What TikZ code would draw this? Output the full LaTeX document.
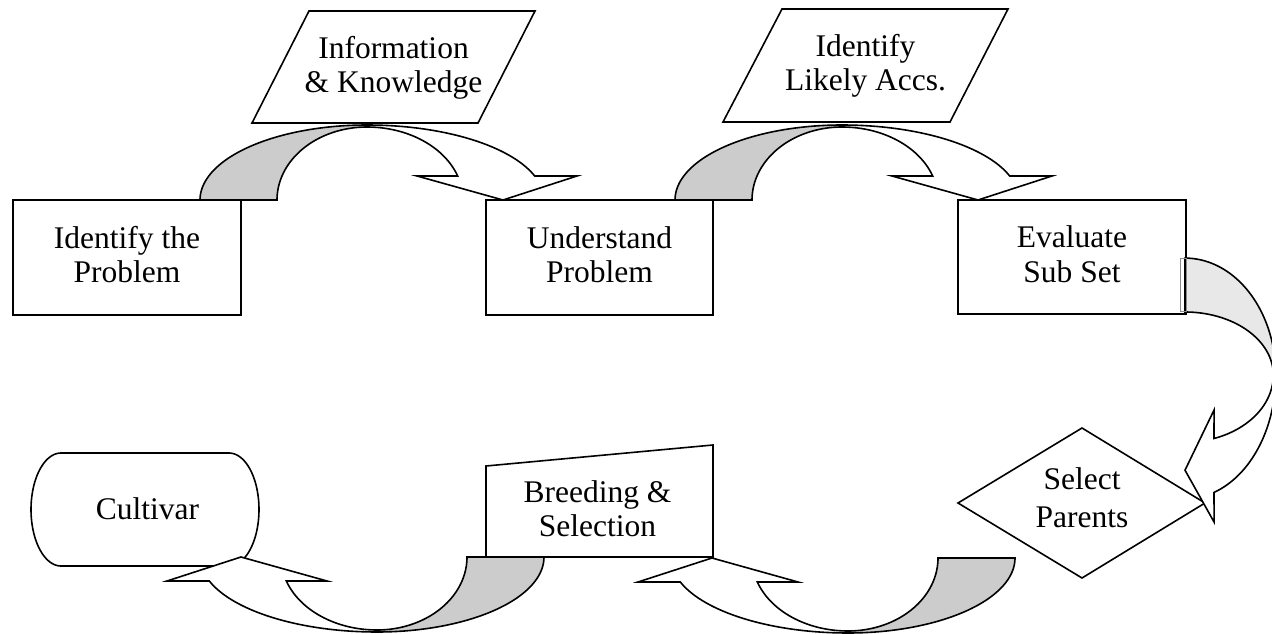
\documentclass[tikz,border=0pt]{standalone}
\usepackage{fontspec}
\setmainfont{Liberation Serif}
\begin{document}
\begin{tikzpicture}[x=1pt,y=-1pt,line width=1.6pt,line join=miter,
  lbl/.style={font=\fontsize{31.5}{34.5}\selectfont,align=center,inner sep=0pt},
  box/.style={draw,fill=white,line width=1.6pt},
  shapefill/.style={draw,fill=white},
  cvback/.style={draw,fill=black!20},
  cvfront/.style={draw,fill=white},
  curvarrow/.pic={
    \path[cvback] plot[domain=180:90,samples=50] ({167*cos(\x)},{-75*sin(\x)})
       -- plot[domain=90:180,samples=50] ({90*cos(\x)},{-73*sin(\x)}) -- cycle;
    \path[cvfront] plot[domain=90:18.66,samples=50] ({177*cos(\x)},{-75*sin(\x)})
       -- (210,-24) -- (136,0) -- (50,-24)
       -- plot[domain=19.19:90,samples=50] ({96*cos(\x)},{-73*sin(\x)}) -- cycle;
  }]
\useasboundingbox (0,0) rectangle (1272,634);
\clip (0,0) rectangle (1272,634);

% boxes
\node[box,minimum width=228,minimum height=115] (idp) at (127,257.5) {};
\node[lbl] (idpt) at (idp.center) [yshift=3pt] {Identify the\\Problem};
\node[box,minimum width=227,minimum height=115] (und) at (599.5,257.5) {};
\node[lbl] (undt) at (und.center) [yshift=3pt] {Understand\\Problem};
\node[box,minimum width=228,minimum height=114] (eva) at (1072,257) {};
\node[lbl] (evat) at (eva.center) [yshift=3pt] {Evaluate\\Sub Set};

% parallelograms
\path[shapefill] (309,11) -- (535,11) -- (478,123) -- (252,123) -- cycle;
\node[lbl] (info) at (393.5,68) {Information\\\& Knowledge};
\path[shapefill] (782,9) -- (1008,9) -- (950,122) -- (723,122) -- cycle;
\node[lbl] (ila) at (865.5,66) {Identify\\Likely Accs.};

% diamond
\path[shapefill] (958,503) -- (1082,428) -- (1205,503) -- (1082,578) -- cycle;
\node[lbl,font=\fontsize{31.5}{38}\selectfont] (sel) at (1082,497.5) {Select\\Parents};

% manual input
\path[shapefill] (486,466) -- (713,445) -- (713,557) -- (486,557) -- cycle;
\node[lbl] (bre) at (597.5,508.5) {Breeding \&\\Selection};

% terminator
\path[shapefill] (61,453) -- (229,453)
  -- plot[domain=90:-90,samples=50] ({229+30*cos(\x)},{509.5-56.5*sin(\x)})
  -- (61,566)
  -- plot[domain=-90:-270,samples=50] ({61+30*cos(\x)},{509.5-56.5*sin(\x)}) -- cycle;
\node[lbl] (cul) at (147.5,509) {Cultivar};

% curved arrows
\pic at (367,200) {curvarrow};
\pic at (842,200) {curvarrow};
\pic[rotate=-90,xscale=0.70,yscale=1.21,cvback/.append style={fill=black!9}] at (1185,375) {curvarrow};
\draw[black!45,line width=0.8pt] (1180,258) rectangle (1186,311);
\pic[rotate=180] at (848,558) {curvarrow};
\pic[rotate=180] at (377,557) {curvarrow};
\end{tikzpicture}
\end{document}
